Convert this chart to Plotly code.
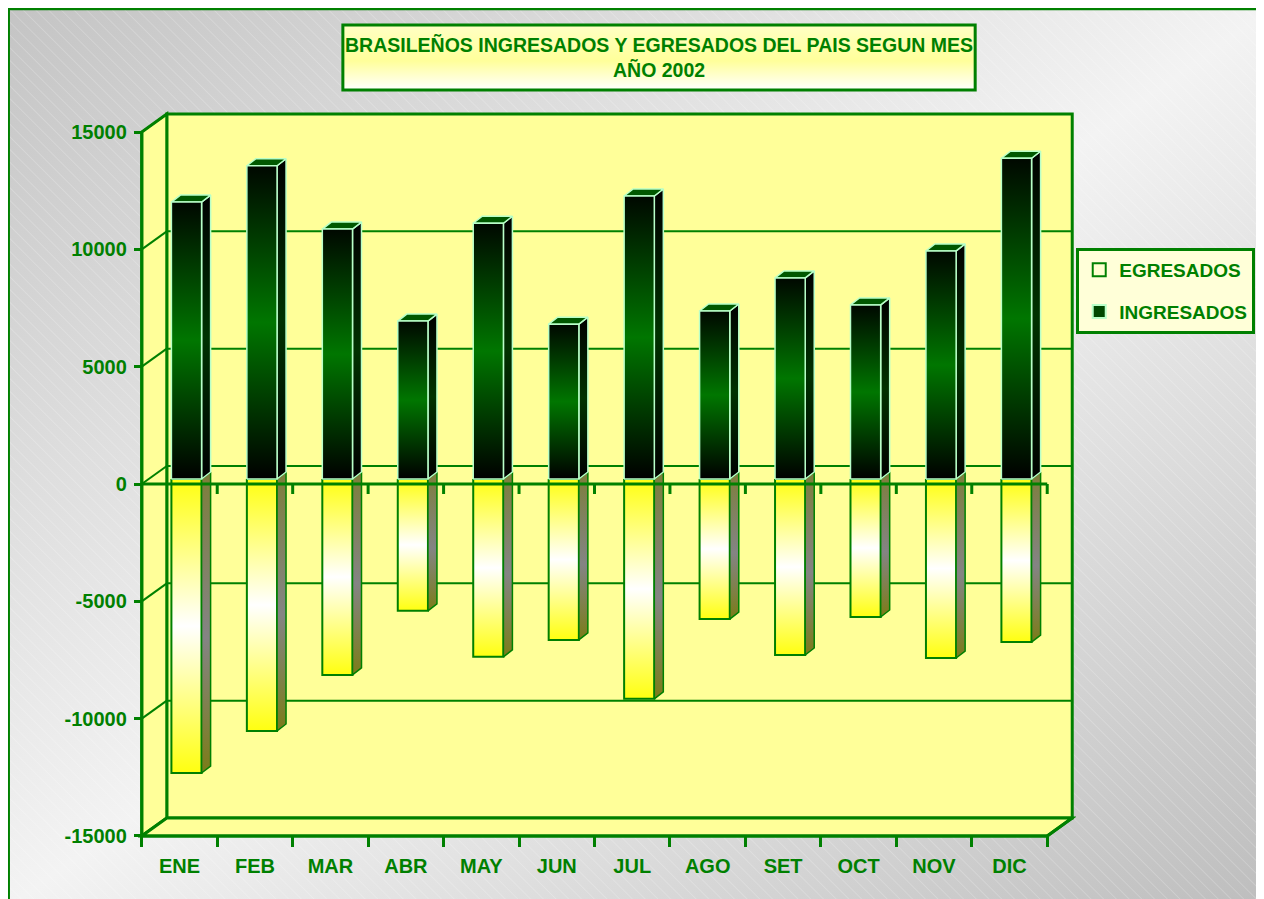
import base64
import plotly.graph_objects as go

# ---------------- data ----------------
MESES = ['ENE', 'FEB', 'MAR', 'ABR', 'MAY', 'JUN', 'JUL', 'AGO', 'SET', 'OCT', 'NOV', 'DIC']
INGRESADOS = [11800, 13350, 10650, 6730, 10900, 6600, 12060, 7160, 8570, 7420, 9720, 13670]
EGRESADOS = [-12530, -10740, -8350, -5620, -7580, -6860, -9370, -5970, -7500, -5880, -7630, -6950]
Y_TICKS = [-15000, -10000, -5000, 0, 5000, 10000, 15000]
Y_TICK_LABELS = ['-15000', '-10000', '-5000', '0', '5000', '10000', '15000']
TITLE = 'BRASILEÑOS INGRESADOS Y EGRESADOS DEL PAIS SEGUN MES<br>AÑO 2002'

# ---------------- geometry / style ----------------
W, H = 1264, 899
SHIFT = 8                  # page body margin
GREEN = '#008000'
WALL = '#FFFF99'
FONT = 'Liberation Sans, Arial, sans-serif'

N = len(MESES)
YMIN, YMAX = -15000, 15000
KX = 905 / N               # px per category unit (front plane)
KY = 704 / (YMAX - YMIN)   # px per value unit
DX = 25 / KX               # wall depth offset (x)
DY = 18 / KY               # wall depth offset (y)
PADX, PADY = 0.05, 300
BOFF_X, BOFF_Y = 7 / KX, 5 / KY     # bar plane offset from front plane
BDX, BDY = 9 / KX, 7 / KY           # bar depth
BW = 0.2                            # half bar width
TICK_Y = 10 / KY

XR = [-0.5 - PADX, N - 0.5 + DX + PADX]
YR = [YMIN - PADY, YMAX + DY + PADY]
PW = (XR[1] - XR[0]) * KX
PH = (YR[1] - YR[0]) * KY
ML = 142 - SHIFT - PADX * KX
MT = (836 - SHIFT) - (YR[1] - YMIN) * KY
MR = W - ML - PW
MB = H - MT - PH


def pxx(px):
    return (px - SHIFT - ML) / PW


def pxy(py):
    return (H - MB - (py - SHIFT)) / PH


def svg_uri(svg):
    return 'data:image/svg+xml;base64,' + base64.b64encode(svg.encode()).decode()


BG_SVG = """<svg xmlns='http://www.w3.org/2000/svg' width='1264' height='899' viewBox='0 0 1264 899' preserveAspectRatio='none'>
<defs>
<linearGradient id='g' x1='0' y1='0' x2='1' y2='1'>
<stop offset='0' stop-color='#c4c4c4'/><stop offset='0.5' stop-color='#f3f3f3'/><stop offset='1' stop-color='#bdbdbd'/>
</linearGradient>
<pattern id='p' width='9' height='9' patternUnits='userSpaceOnUse' patternTransform='rotate(-45)'>
<line x1='0' y1='0' x2='0' y2='9' stroke='white' stroke-opacity='0.35' stroke-width='1'/>
</pattern>
</defs>
<rect width='1264' height='899' fill='url(#g)'/>
<rect width='1264' height='899' fill='url(#p)'/>
</svg>"""

TITLE_SVG = """<svg xmlns='http://www.w3.org/2000/svg' width='632' height='65' viewBox='0 0 632 65' preserveAspectRatio='none'>
<defs><linearGradient id='t' x1='0' y1='0' x2='0' y2='1'>
<stop offset='0' stop-color='#ffffc4'/><stop offset='0.55' stop-color='#ffff9a'/><stop offset='1' stop-color='#ffffff'/>
</linearGradient></defs>
<rect width='632' height='65' fill='url(#t)'/></svg>"""

fig = go.Figure()

# ---------------- bars ----------------
GREEN_GRAD = [[0, '#000000'], [0.5, '#007600'], [1, '#000800']]
GREEN_SIDE = [[0, '#000000'], [0.5, '#003200'], [1, '#000000']]
YEL_GRAD = [[0, '#FFFF10'], [0.5, '#FFFFFF'], [1, '#FFFF10']]
YEL_SIDE = [[0, '#7C7C18'], [0.45, '#848484'], [1, '#7E7E3A']]


def poly(xs, ys, line_color, line_w, fillcolor=None, grad=None):
    kw = dict(x=xs, y=ys, mode='lines', fill='toself', showlegend=False,
              hoverinfo='skip', line=dict(color=line_color, width=line_w))
    if grad is not None:
        kw['fillgradient'] = dict(type='vertical', colorscale=grad)
    else:
        kw['fillcolor'] = fillcolor
    fig.add_trace(go.Scatter(**kw))


for i, v in enumerate(EGRESADOS):
    c = i + BOFF_X
    b = BOFF_Y
    poly([c - BW, c + BW, c + BW, c - BW, c - BW], [b, b, b + v, b + v, b], GREEN, 2, grad=YEL_GRAD)
    poly([c + BW, c + BW + BDX, c + BW + BDX, c + BW, c + BW],
         [b, b + BDY, b + v + BDY, b + v, b], GREEN, 1.5, grad=YEL_SIDE)

for i, v in enumerate(INGRESADOS):
    c = i + BOFF_X
    b = BOFF_Y
    poly([c + BW, c + BW + BDX, c + BW + BDX, c + BW, c + BW],
         [b, b + BDY, b + v + BDY, b + v, b], '#B8FFC8', 1.5, grad=GREEN_SIDE)
    poly([c - BW, c + BW, c + BW + BDX, c - BW + BDX, c - BW],
         [b + v, b + v, b + v + BDY, b + v + BDY, b + v], '#B8FFC8', 1.5, fillcolor='#005800')
    poly([c - BW, c + BW, c + BW, c - BW, c - BW], [b, b, b + v, b + v, b], '#B8FFC8', 1.5, grad=GREEN_GRAD)

# legend entries
fig.add_trace(go.Scatter(x=[None], y=[None], mode='markers', name='EGRESADOS', legendgroup='e',
                         marker=dict(symbol='square', size=13, color='#FFFFD0',
                                     line=dict(color=GREEN, width=2))))
fig.add_trace(go.Scatter(x=[None], y=[None], mode='markers', name='INGRESADOS', legendgroup='i',
                         marker=dict(symbol='square', size=13, color='#004800',
                                     line=dict(color='#B8FFC8', width=2))))

# ---------------- 3D box (walls, floor, grid) ----------------
x0, x1 = -0.5, N - 0.5
shapes = []
shapes.append(dict(type='rect', xref='x', yref='y', x0=x0 + DX, x1=x1 + DX, y0=YMIN + DY, y1=YMAX + DY,
                   fillcolor=WALL, line=dict(color=GREEN, width=3), layer='below'))
shapes.append(dict(type='path', xref='x', yref='y', layer='below', fillcolor=WALL,
                   line=dict(color=GREEN, width=3),
                   path=f'M {x0},{YMIN} L {x0},{YMAX} L {x0 + DX},{YMAX + DY} L {x0 + DX},{YMIN + DY} Z'))
shapes.append(dict(type='path', xref='x', yref='y', layer='below', fillcolor=WALL,
                   line=dict(color=GREEN, width=3),
                   path=f'M {x0},{YMIN} L {x1},{YMIN} L {x1 + DX},{YMIN + DY} L {x0 + DX},{YMIN + DY} Z'))
for t in Y_TICKS:
    if YMIN < t < YMAX:
        shapes.append(dict(type='line', xref='x', yref='y', layer='below', x0=x0 + DX, x1=x1 + DX,
                           y0=t + DY, y1=t + DY, line=dict(color=GREEN, width=2)))
    shapes.append(dict(type='line', xref='x', yref='y', layer='below', x0=x0, x1=x0 + DX,
                       y0=t, y1=t + DY, line=dict(color=GREEN, width=2)))
shapes.append(dict(type='line', xref='x', yref='y', x0=x0, x1=x0, y0=YMIN, y1=YMAX,
                   line=dict(color=GREEN, width=3)))
shapes.append(dict(type='line', xref='x', yref='y', x0=x0, x1=x1, y0=YMIN, y1=YMIN,
                   line=dict(color=GREEN, width=3)))
shapes.append(dict(type='line', xref='x', yref='y', x0=x1, x1=x1 + DX, y0=YMIN, y1=YMIN + DY,
                   line=dict(color=GREEN, width=3)))
shapes.append(dict(type='line', xref='x', yref='y', x0=x0, x1=x1, y0=0, y1=0,
                   line=dict(color=GREEN, width=3)))
for i in range(N):
    shapes.append(dict(type='line', xref='x', yref='y', x0=i + 0.5, x1=i + 0.5, y0=0, y1=-TICK_Y,
                       line=dict(color=GREEN, width=3)))
# title box border
shapes.append(dict(type='rect', xref='paper', yref='paper', x0=pxx(343), x1=pxx(975), y0=pxy(90), y1=pxy(25),
                   line=dict(color=GREEN, width=3), layer='below'))
# outer frame
shapes.append(dict(type='rect', xref='paper', yref='paper', x0=pxx(9), x1=pxx(W + 20), y0=pxy(H + 20), y1=pxy(9),
                   line=dict(color=GREEN, width=2.5), layer='below'))

fig.update_layout(
    width=W, height=H,
    margin=dict(l=ML, r=MR, t=MT, b=MB, pad=0),
    paper_bgcolor='white', plot_bgcolor='rgba(0,0,0,0)',
    font=dict(family=FONT, color=GREEN),
    shapes=shapes,
    images=[
        dict(source=svg_uri(BG_SVG), xref='paper', yref='paper', x=pxx(SHIFT), y=pxy(SHIFT),
             sizex=W / PW, sizey=H / PH, sizing='stretch',
             xanchor='left', yanchor='top', layer='below'),
        dict(source=svg_uri(TITLE_SVG), xref='paper', yref='paper', x=pxx(343), y=pxy(25),
             sizex=632 / PW, sizey=65 / PH, sizing='stretch',
             xanchor='left', yanchor='top', layer='below'),
    ],
    annotations=[dict(text=TITLE, xref='paper', yref='paper', x=pxx(659), y=pxy(57),
                      xanchor='center', yanchor='middle', showarrow=False,
                      font=dict(family=FONT, size=19.5, color=GREEN, weight='bold'))],
    xaxis=dict(range=XR, showgrid=False, zeroline=False, showline=False,
               anchor='free', position=(PADY * KY) / PH,
               tickvals=list(range(N)), ticktext=MESES, ticks='outside', ticklen=12,
               tickcolor='rgba(0,0,0,0)',
               tickfont=dict(family=FONT, size=20, color=GREEN, weight='bold'),
               minor=dict(tickvals=[i - 0.5 for i in range(N + 1)], ticks='outside', ticklen=10,
                          tickwidth=3, tickcolor=GREEN, showgrid=False)),
    yaxis=dict(range=YR, showgrid=False, zeroline=False, showline=False,
               anchor='free', position=(PADX * KX) / PW,
               tickvals=Y_TICKS, ticktext=Y_TICK_LABELS, ticks='outside', ticklen=8, tickwidth=3,
               tickcolor=GREEN, ticklabelstandoff=3,
               tickfont=dict(family=FONT, size=20, color=GREEN, weight='bold')),
    showlegend=True,
    legend=dict(x=pxx(1076), y=pxy(248), xanchor='left', yanchor='top',
                bgcolor='#FFFFD8', bordercolor=GREEN, borderwidth=3,
                traceorder='grouped', tracegroupgap=14, itemwidth=30,
                font=dict(family=FONT, size=19, color=GREEN, weight='bold')),
)

fig.write_html('out.html')
